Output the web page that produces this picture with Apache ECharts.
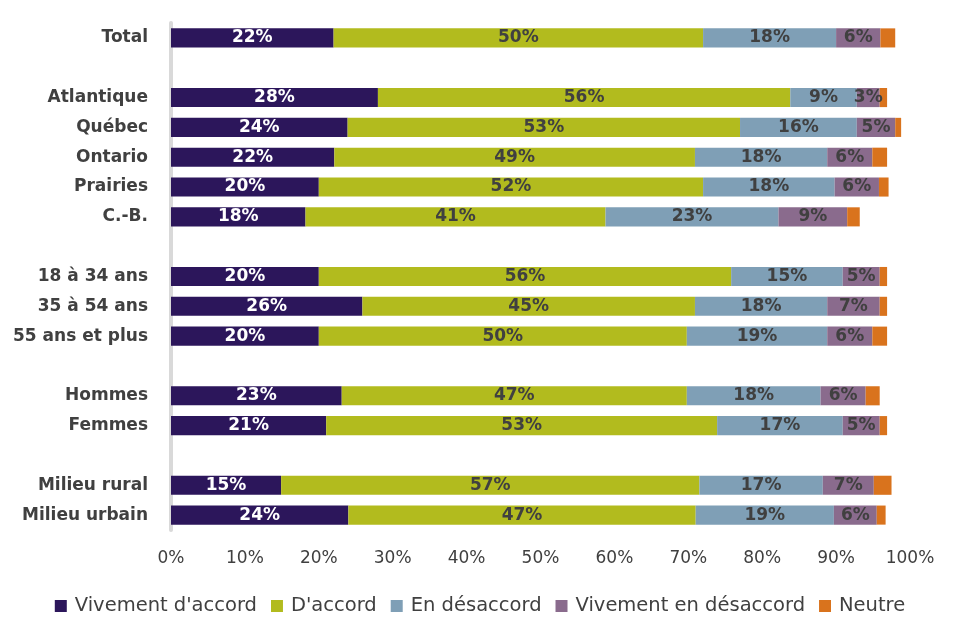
<!DOCTYPE html>
<html><head><meta charset="utf-8">
<script src="https://cdn.jsdelivr.net/npm/echarts@6/dist/echarts.min.js"></script>
<style>html,body{margin:0;padding:0;background:#fff}#c{width:960px;height:641px}</style>
</head><body><div id="c"></div>
<script>
const categories = ['Total',' ','Atlantique','Québec','Ontario','Prairies','C.-B.','  ','18 à 34 ans','35 à 54 ans','55 ans et plus','   ','Hommes','Femmes','    ','Milieu rural','Milieu urbain'];
const seriesNames = ["Vivement d'accord","D'accord","En désaccord","Vivement en désaccord","Neutre"];
const vivementAccord = [22,null,28,23.9,22.1,20,18.2,null,20,25.9,20,null,23.1,21,null,14.9,24];
const accord = [50,null,55.8,53.1,48.8,52,40.6,null,55.8,45,49.8,null,46.7,52.9,null,56.6,47];
const desaccord = [18,null,9,15.8,17.9,17.8,23.4,null,15.1,17.9,19,null,18.1,17,null,16.7,18.7];
const vivementDesaccord = [6,null,3.1,5.2,6.1,6,9.3,null,5,7.1,6.1,null,6.1,5,null,6.9,5.8];
const neutre = [2,null,1,0.8,2,1.3,1.7,null,1,1,2,null,1.9,1,null,2.4,1.2];
const xTicks = [0,10,20,30,40,50,60,70,80,90,100];

const colors = ['#2C165B','#B2BB1E','#7F9FB6','#8A6B8D','#D9731D'];
const FONT = '"DejaVu Sans", sans-serif';
const allData = [vivementAccord, accord, desaccord, vivementDesaccord, neutre];

const chart = echarts.init(document.getElementById('c'));
chart.setOption({
  animation:false,
  textStyle:{fontFamily:FONT},
  grid:{left:171,right:50,top:23,height:507,containLabel:false},
  legend:{
    bottom:20,left:'center',itemWidth:12,itemHeight:12,itemGap:14,
    icon:'rect',
    textStyle:{fontFamily:FONT,fontSize:19.5,color:'#404040',padding:[0,0,0,3]},
    data:seriesNames
  },
  xAxis:{
    type:'value',min:xTicks[0],max:xTicks[xTicks.length-1],interval:10,
    axisLine:{show:false},axisTick:{show:false},splitLine:{show:false},
    axisLabel:{formatter:'{value}%',fontFamily:FONT,fontSize:17,color:'#404040',margin:20}
  },
  yAxis:{
    type:'category',inverse:true,data:categories,
    axisLine:{show:true,lineStyle:{color:'#D9D9D9',width:4}},
    axisTick:{show:false},
    axisLabel:{fontFamily:FONT,fontSize:17,fontWeight:'bold',color:'#404040',margin:23}
  },
  series: seriesNames.map((n,i)=>({
    name:n,type:'bar',stack:'s',barWidth:'64%',
    data:allData[i],
    itemStyle:{color:colors[i]},
    label:{
      show:i<4,position:'inside',
      formatter:p=>Math.round(p.value)+'%',
      fontFamily:FONT,fontSize:17,fontWeight:'bold',
      color:i===0?'#ffffff':'#404040'
    }
  }))
});
</script></body></html>
